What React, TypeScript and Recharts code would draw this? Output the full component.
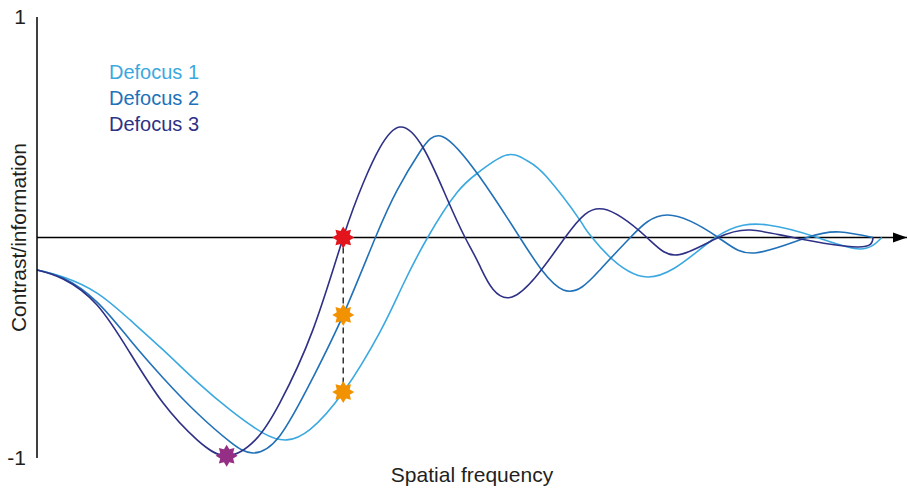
import React from "react";
import {
  ComposedChart,
  Line,
  Scatter,
  XAxis,
  YAxis,
  ReferenceLine,
  ReferenceDot,
} from "recharts";

// spatial frequency (arbitrary units) / contrast
const freq1 = [0, 0.3, 0.69, 1.07, 1.45, 1.84, 2.22, 2.6, 2.87, 3.14, 3.52, 3.94, 4.2, 4.49, 4.83, 5.09, 5.4, 5.63, 5.86, 6.24, 6.38, 7.02, 7.8, 8.4, 8.97, 9.46, 9.71];
const contrast1 = [-0.147, -0.179, -0.252, -0.374, -0.51, -0.655, -0.782, -0.887, -0.918, -0.87, -0.701, -0.43, -0.22, 0, 0.205, 0.3, 0.374, 0.349, 0.274, 0.079, 0, -0.179, 0, 0.057, 0, -0.052, 0];

const freq2 = [0, 0.3, 0.69, 1.07, 1.45, 1.84, 2.22, 2.48, 2.79, 3.17, 3.52, 3.89, 4.14, 4.4, 4.67, 5.09, 5.55, 6.05, 6.47, 6.82, 7.25, 7.83, 8.25, 8.85, 9.23, 9.61];
const contrast2 = [-0.147, -0.184, -0.293, -0.465, -0.637, -0.796, -0.927, -0.977, -0.9, -0.637, -0.351, 0, 0.215, 0.388, 0.456, 0.274, 0, -0.238, -0.147, 0, 0.102, 0, -0.07, 0, 0.025, 0];

const freq3 = [0, 0.3, 0.69, 1.07, 1.45, 1.84, 2.18, 2.51, 2.79, 3.17, 3.52, 3.75, 3.94, 4.17, 4.44, 4.71, 4.92, 5.09, 5.46, 6.07, 6.51, 7.01, 7.36, 7.83, 8.2, 8.69, 9.43, 9.61];
const contrast3 = [-0.147, -0.188, -0.306, -0.524, -0.751, -0.918, -0.99, -0.918, -0.751, -0.42, 0, 0.247, 0.406, 0.501, 0.406, 0.179, 0, -0.129, -0.27, 0, 0.129, 0, -0.079, 0, 0.034, 0, -0.043, 0];

const seriesNames = ["Defocus 1", "Defocus 2", "Defocus 3"];
const colors = ["#3ba9e0", "#2171b9", "#2e3185"];

// markers
const redStars = [{ f: 3.52, v: 0 }];
const orangeStars = [
  { f: 3.52, v: -0.351 },
  { f: 3.52, v: -0.701 },
];
const purpleStars = [{ f: 2.18, v: -0.99 }];

const yTicks = [-1, 1];

const toPoints = (fs: number[], vs: number[]) => fs.map((f, i) => ({ f, v: vs[i] }));
const series = [toPoints(freq1, contrast1), toPoints(freq2, contrast2), toPoints(freq3, contrast3)];

const font = "'Liberation Sans', Arial, sans-serif";

function Star({ cx, cy, color }: { cx: number; cy: number; color: string }) {
  const pts: string[] = [];
  for (let i = 0; i < 16; i++) {
    const r = i % 2 === 0 ? 11 : 7;
    const a = (Math.PI / 8) * i - Math.PI / 2;
    pts.push(`${cx + r * Math.cos(a)},${cy + r * Math.sin(a)}`);
  }
  return <polygon points={pts.join(" ")} fill={color} />;
}

function Arrow({ cx, cy }: any) {
  return <polygon points={`${cx - 14},${cy - 5} ${cx},${cy} ${cx - 14},${cy + 5}`} fill="#000" />;
}

export default function App() {
  return (
    <div style={{ position: "absolute", left: 0, top: 0, width: 908, height: 491, background: "#fff", fontFamily: font }}>
      <ComposedChart width={908} height={491} margin={{ top: 17, right: 1, bottom: 0, left: 0 }}>
        <XAxis
          type="number"
          dataKey="f"
          domain={[0, 10]}
          allowDataOverflow
          axisLine={false}
          tickLine={false}
          tick={false}
          height={33}
          label={{ value: "Spatial frequency", position: "center", fill: "#231f20", fontSize: 21, fontFamily: font }}
        />
        <YAxis
          type="number"
          dataKey="v"
          domain={[-1, 1]}
          ticks={yTicks}
          width={37}
          axisLine={{ stroke: "#000", strokeWidth: 1.5 }}
          tickLine={false}
          tickMargin={5}
          tick={{ fill: "#231f20", fontSize: 21, fontFamily: font }}
          label={{ value: "Contrast/information", angle: -90, position: "center", fill: "#231f20", fontSize: 21, fontFamily: font }}
        />
        <ReferenceLine y={0} stroke="#000" strokeWidth={1.5} />
        <ReferenceDot x={10} y={0} r={0} shape={(p: any) => <Arrow cx={p.cx} cy={p.cy} />} />
        {series.map((d, i) => (
          <Line
            key={seriesNames[i]}
            data={d}
            dataKey="v"
            name={seriesNames[i]}
            type="natural"
            stroke={colors[i]}
            strokeWidth={1.6}
            dot={false}
            isAnimationActive={false}
          />
        ))}
        <ReferenceLine
          segment={[
            { x: orangeStars[1].f, y: redStars[0].v },
            { x: orangeStars[1].f, y: orangeStars[1].v },
          ]}
          stroke="#333"
          strokeWidth={1.5}
          strokeDasharray="6 4"
        />
        <Scatter data={redStars} dataKey="v" isAnimationActive={false} shape={(p: any) => <Star cx={p.cx} cy={p.cy} color="#e3141b" />} />
        <Scatter data={orangeStars} dataKey="v" isAnimationActive={false} shape={(p: any) => <Star cx={p.cx} cy={p.cy} color="#f39200" />} />
        <Scatter data={purpleStars} dataKey="v" isAnimationActive={false} shape={(p: any) => <Star cx={p.cx} cy={p.cy} color="#952f86" />} />
      </ComposedChart>
      <div style={{ position: "absolute", left: 109, top: 59, fontSize: 20, lineHeight: "26px" }}>
        {seriesNames.map((n, i) => (
          <div key={n} style={{ color: colors[i] }}>
            {n}
          </div>
        ))}
      </div>
    </div>
  );
}
